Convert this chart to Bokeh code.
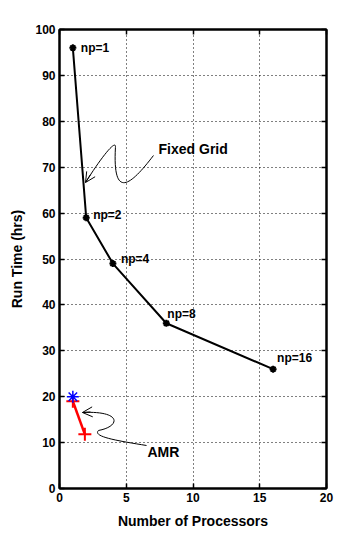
from bokeh.plotting import figure
from bokeh.models import Range1d, LinearAxis, FixedTicker, CustomJSTickFormatter, Arrow, OpenHead, ColumnDataSource
from bokeh.core.properties import value
from bokeh.embed import file_html
from bokeh.resources import INLINE

# Data
fixed_np = [1, 2, 4, 8, 16]
fixed_time = [96, 59, 49, 36, 26]
fixed_labels = ["np=1", "np=2", "np=4", "np=8", "np=16"]
amr_np = [1, 1.9]
amr_time = [19, 11.8]
amr_ref_np = [1]
amr_ref_time = [20]
x_ticks = [0, 5, 10, 15, 20]
y_ticks = [0, 10, 20, 30, 40, 50, 60, 70, 80, 90, 100]

FONT = "Liberation Sans"

p = figure(frame_width=267, frame_height=459, output_backend="svg", toolbar_location=None,
           x_range=Range1d(0, 20), y_range=Range1d(0, 100),
           min_border_left=59, min_border_right=23, min_border_top=29, min_border_bottom=42)
p.background_fill_color = "white"
p.border_fill_color = "white"
p.outline_line_color = "black"
p.outline_line_width = 2

for ax, ticks in ((p.xaxis[0], x_ticks), (p.yaxis[0], y_ticks)):
    ax.ticker = FixedTicker(ticks=ticks)
    ax.major_tick_in = 5
    ax.major_tick_out = 0
    ax.minor_tick_line_color = None
    ax.axis_line_width = 2
    ax.major_tick_line_width = 1.5
    ax.major_label_text_font = FONT
    ax.major_label_text_font_style = "bold"
    ax.major_label_text_font_size = "12px"
    ax.major_label_text_color = "black"
    ax.axis_label_text_font = FONT
    ax.axis_label_text_font_style = "bold"
    ax.axis_label_text_font_size = "14px"
    ax.axis_label_text_color = "black"
    ax.major_label_standoff = 4

p.xaxis.axis_label = "Number of Processors"
p.yaxis.axis_label = "Run Time (hrs)"
p.xaxis.axis_label_standoff = 8
p.yaxis.axis_label_standoff = 7

for loc, ticks in (("right", y_ticks), ("above", x_ticks)):
    ax = LinearAxis(ticker=FixedTicker(ticks=ticks),
                    formatter=CustomJSTickFormatter(code="return ''"),
                    major_tick_in=5, major_tick_out=0, minor_tick_line_color=None,
                    axis_line_width=2, major_tick_line_width=1.5, major_label_standoff=0)
    p.add_layout(ax, loc)

p.xgrid.ticker = FixedTicker(ticks=x_ticks)
p.ygrid.ticker = FixedTicker(ticks=y_ticks)
p.grid.grid_line_color = "black"
p.grid.grid_line_dash = "1 3"
p.grid.grid_line_width = 1

# Fixed grid series
p.line(fixed_np, fixed_time, line_color="black", line_width=2)
p.scatter(fixed_np, fixed_time, marker="asterisk", size=7, line_color="black", line_width=2)

src = ColumnDataSource(dict(x=fixed_np, y=fixed_time, t=fixed_labels,
                            dy=[0, -3, -5, -9, -11], dx=[8, 7, 8, 1, 4]))
p.text(x="x", y="y", text="t", source=src, x_offset="dx", y_offset="dy",
       text_font=value(FONT), text_font_style="bold", text_font_size="12px",
       text_baseline="middle", text_align="left", text_color="black")

# AMR series
p.line(amr_np, amr_time, line_color="red", line_width=2.5)
p.scatter(amr_np, amr_time, marker="cross", size=13, line_color="red", line_width=2)
p.scatter(amr_ref_np, amr_ref_time, marker="asterisk", size=12, line_color="blue", line_width=1.5)

# Annotations: curly arrows
p.bezier(x0=[7.04, 4.19], y0=[72.55, 74.29], x1=[4.19, 1.95], y1=[74.29, 66.67],
         cx0=[5.32, 4.27], cy0=[66.01, 76.25], cx1=[3.97, 3.22], cy1=[62.75, 72.55],
         line_color="black", line_width=1)
p.add_layout(Arrow(end=OpenHead(size=10, line_width=1, line_color="black"),
                   x_start=2.33, y_start=68.41, x_end=1.95, y_end=66.67,
                   line_width=1, line_color="black"))
p.bezier(x0=[6.52, 2.92], y0=[9.37, 12.64], x1=[2.92, 1.72], y1=[12.64, 16.56],
         cx0=[4.19, 4.57], cy0=[10.46, 13.51], cx1=[2.47, 4.72], cy1=[11.33, 16.99],
         line_color="black", line_width=1)
p.add_layout(Arrow(end=OpenHead(size=10, line_width=1, line_color="black"),
                   x_start=2.32, y_start=16.67, x_end=1.72, y_end=16.56,
                   line_width=1, line_color="black"))

p.text(x=[7.42], y=[73.86], text=["Fixed Grid"], text_font=value(FONT), text_font_style="bold",
       text_font_size="14px", text_baseline="middle", text_align="left", text_color="black")
p.text(x=[6.59], y=[8.06], text=["AMR"], text_font=value(FONT), text_font_style="bold",
       text_font_size="14px", text_baseline="middle", text_align="left", text_color="black")

open("out.html", "w").write(file_html(p, INLINE))
